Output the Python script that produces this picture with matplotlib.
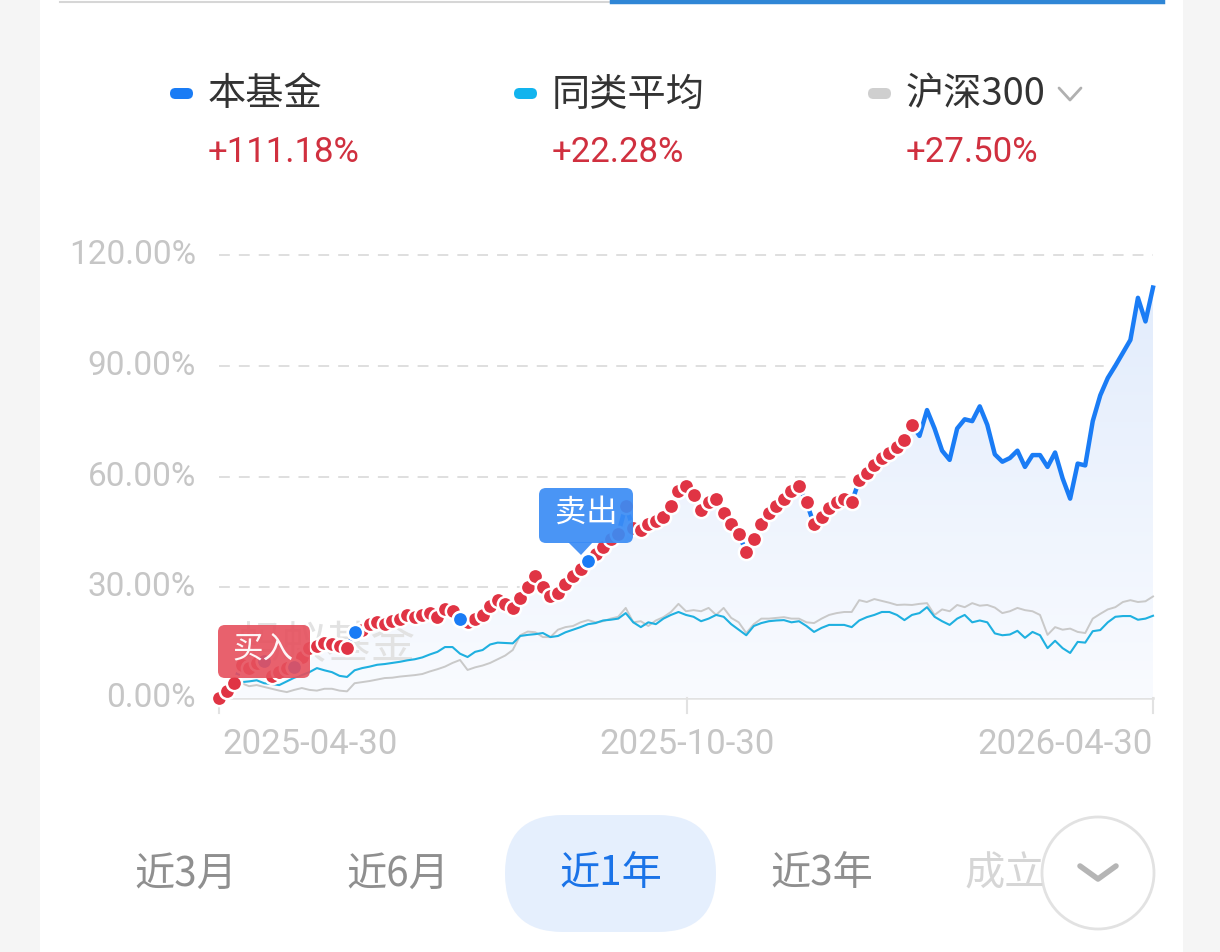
import matplotlib
matplotlib.use("Agg")
import matplotlib.pyplot as plt
from matplotlib.patches import FancyBboxPatch, Rectangle, Circle, Polygon
from matplotlib.colors import LinearSegmentedColormap
import numpy as np
import pandas as pd

plt.rcParams['font.family'] = ['Noto Sans CJK SC', 'DejaVu Sans']

# ---- data (% return since 2025-04-30) ----
start_date = '2025-04-30'
end_date = '2026-04-30'
tick_dates = ['2025-04-30', '2025-10-30', '2026-04-30']
y_ticks = [0, 30, 60, 90, 120]

fund = [0, 2, 4, 9, 8, 9.5, 10, 6, 7, 8,
        8.5, 11, 13.5, 14, 15, 14.5, 14, 13.5, 18, 18.5,
        20, 20.6, 20, 20.8, 21.5, 22.5, 22, 22.5, 23, 22,
        24, 23.5, 21.5, 20.6, 21.5, 22.5, 25, 26.5, 25.5, 24.4,
        27, 30, 33, 30, 27.5, 28.5, 31, 33, 35, 37,
        39, 41, 43, 44.5, 52, 46, 45.5, 47, 48, 49,
        52, 56, 57.5, 55, 51, 53, 54, 50, 47, 44.5,
        39.5, 43, 47, 50, 52, 54, 56, 57.5, 53, 47,
        49, 51.5, 53, 54, 53, 59, 61, 63, 65, 66.5,
        68, 70, 74, 71, 78, 73, 67, 64.5, 73, 75.5,
        75, 79, 74, 66, 64, 65, 67, 62.6, 65.8, 65.8,
        62.6, 66.5, 59.5, 54, 63.5, 63, 75, 82, 86.7, 90,
        93.5, 97, 108.4, 102, 111.18]

peer_avg = [0, 2.5, 4, 4.3, 4.5, 4.8, 4, 3.8, 3.5, 4.5,
            5.5, 6.2, 7, 8.1, 7.5, 7, 6, 5.7, 7.5, 8.1,
            8.5, 9, 9.2, 9.5, 9.8, 10.2, 10.5, 11, 11.8, 12.5,
            13.8, 13.8, 12, 11.1, 12.5, 13, 14.5, 15, 14.9, 14.8,
            16.8, 17.1, 17.3, 17.6, 16.5, 16.8, 17.8, 18.5, 19.2, 20,
            20.3, 21, 21.2, 21.5, 23, 20.5, 19.2, 20.5, 20, 21.5,
            22.5, 23.3, 22.5, 22, 20.8, 21.5, 22.5, 22, 20, 18.5,
            17, 19.5, 20.3, 20.8, 21, 21.1, 20.5, 20.8, 19.5, 17.9,
            19, 19.8, 19.8, 19.8, 19.2, 21, 21.9, 22.5, 23.3, 23.3,
            22.5, 21.1, 22.5, 23, 24.6, 22, 20.8, 19.8, 21.5, 22.5,
            20.5, 21, 20.5, 17.5, 17, 17.2, 18.2, 16.3, 17.9, 17,
            13.5, 15.5, 13.5, 12.2, 15.2, 15, 18.1, 18.4, 20.5, 22,
            22.2, 22.2, 21.2, 21.5, 22.28]

hs300 = [0, 2, 3.5, 4, 3.2, 3.5, 3, 2.5, 2, 1.6,
         2.2, 2.7, 2.2, 2, 2.5, 2.5, 2, 1.8, 4, 4.3,
         4.6, 5, 5.4, 5.5, 5.8, 6, 6.2, 6.5, 7.2, 7.8,
         8.5, 9.5, 10.3, 7.6, 8.3, 8.8, 9.5, 10.5, 11.5, 13,
         17, 18, 17.8, 16.5, 16.5, 18.5, 19.2, 19.5, 20.5, 21.1,
         20.5, 20.8, 21.5, 22, 24.4, 20.5, 20.8, 19.5, 21, 21.9,
         23.3, 25.5, 23.5, 23.8, 23.5, 24.4, 22.5, 24.4, 21.7, 20.5,
         17.6, 20, 21.5, 21.5, 21.7, 21.9, 21.5, 21.5, 20.5, 20.3,
         21.5, 22.5, 23, 23.3, 23.3, 26.5, 26, 26.8, 26.3, 25.8,
         25.2, 25.3, 25.2, 25.5, 25.7, 22.5, 24, 23.5, 25.2, 24.6,
         25.7, 25, 25.2, 24.5, 23, 23.5, 24.4, 23.8, 23.5, 22.5,
         17.1, 19.2, 18.5, 18.8, 17.9, 17.6, 21.5, 22.8, 24, 24.6,
         26, 26.5, 26, 26.2, 27.5]

# trade markers along the fund line
n_marked = 93              # red dots drawn on the first part of the line
blue_idx = [6, 10, 18, 32, 49]

series_names = ['本基金', '同类平均', '沪深300']
series_returns = ['+111.18%', '+22.28%', '+27.50%']
periods = ['近3月', '近6月', '近1年', '近3年', '成立']
active_period = '近1年'

# ---- colours ----
BLUE = '#1a7cf5'
CYAN = '#1fb0e0'
GREY = '#c9c9c9'
RED = '#e03444'
RED_TXT = '#d0303f'

W, H = 1220, 952
fig = plt.figure(figsize=(W / 100, H / 100), dpi=100)
fig.patch.set_facecolor('white')

# full-figure pixel axes for the page furniture
bg = fig.add_axes([0, 0, 1, 1], zorder=0)
bg.set_xlim(0, W); bg.set_ylim(H, 0); bg.axis('off')
fg = fig.add_axes([0, 0, 1, 1], zorder=5)
fg.set_xlim(0, W); fg.set_ylim(H, 0); fg.axis('off')
fg.patch.set_alpha(0)

bg.add_patch(Rectangle((0, 0), 40, H, color='#f5f5f5', lw=0))
bg.add_patch(Rectangle((1183, 0), W - 1183, H, color='#f5f5f5', lw=0))
bg.plot([60, 610], [1.5, 1.5], color='#d6d6d6', lw=1.5)
bg.plot([612, 1163], [1.5, 1.5], color='#2f86d6', lw=3.2)

# legend row
leg_x = [170, 514, 868]
leg_col = [BLUE, '#12b4ee', '#cfcfcf']
for lx, name, ret, c in zip(leg_x, series_names, series_returns, leg_col):
    bg.add_patch(FancyBboxPatch((lx, 88), 23, 11, boxstyle='round,pad=0,rounding_size=5.5',
                                fc=c, ec='none'))
    bg.text(lx + 38, 95, name, fontsize=27.5, color='#333333', va='center', ha='left')
    bg.text(lx + 38, 152, ret, fontsize=25, color=RED_TXT, va='center', ha='left',
            family=['Roboto', 'DejaVu Sans'])
bg.plot([1059, 1070, 1081], [88, 100, 88], color='#b0b0b0', lw=2, solid_capstyle='round')

# ---- main chart ----
dates = pd.date_range(start_date, end_date, periods=len(fund))
x = ((dates - dates[0]) / pd.Timedelta(days=1)).to_numpy()
tick_x = [(pd.Timestamp(d) - dates[0]) / pd.Timedelta(days=1) for d in tick_dates]
x_end = x[-1]

px_left, px_right, px_top, px_zero = 219, 1153, 230, 698
ymax = (px_zero - px_top) / (px_zero - 255) * 120
ax = fig.add_axes([px_left / W, 1 - px_zero / H, (px_right - px_left) / W, (px_zero - px_top) / H],
                  zorder=2)
ax.set_xlim(0, x_end)
ax.set_ylim(0, ymax)
ax.patch.set_alpha(0)
for s in ax.spines.values():
    s.set_visible(False)
ax.set_xticks([]); ax.set_yticks([])

fund = np.array(fund)
# gradient fill below the fund line
poly = ax.fill_between(x, 0, fund, color='none', lw=0)
grad = np.linspace(0, 1, 256).reshape(-1, 1)
cmap = LinearSegmentedColormap.from_list('g', ['#f9fbff', '#e2ecfc'])
im = ax.imshow(grad, extent=[0, x_end, 0, 112], origin='lower', aspect='auto', cmap=cmap, zorder=1)
im.set_clip_path(poly.get_paths()[0], transform=ax.transData)

for yv in y_ticks[1:]:
    ax.axhline(yv, color='#dcdcdc', lw=1.3, ls=(0, (6, 5)), zorder=0.5)
ax.axhline(0, color='#e2e2e2', lw=1.8, zorder=0.6, clip_on=False)
for tx in tick_x:
    ax.plot([tx, tx], [0, -15 * ymax / (px_zero - px_top)], color='#e2e2e2', lw=1.5, clip_on=False)

# watermark sits above the fill, under the lines
ax.text(326, 645, '蚂蚁基金', transform=bg.transData, fontsize=32, color='#e2e2e2',
        ha='center', va='center', zorder=2, clip_on=False)

ax.plot(x, hs300, color=GREY, lw=1.4, zorder=3, clip_on=False)
ax.plot(x, peer_avg, color=CYAN, lw=1.5, zorder=4, clip_on=False)
ax.plot(x, fund, color=BLUE, lw=3.2, zorder=5, clip_on=False, solid_joinstyle='round')
ax.plot(x[:n_marked], fund[:n_marked], 'o', ms=11, mfc=RED, mec='white', mew=1.8,
        zorder=6, clip_on=False)
ax.plot(x[blue_idx], fund[blue_idx], 'o', ms=11, mfc=BLUE, mec='white', mew=1.8,
        zorder=7, clip_on=False)

# y tick labels and x tick labels
for yv in y_ticks:
    py = px_zero - yv / 120 * (px_zero - 255)
    bg.text(196, py, f'{yv:.2f}%', fontsize=24, color='#c6c6c6', ha='right', va='center',
            family=['Roboto', 'DejaVu Sans'])
aligns = ['left', 'center', 'right']
for tx, lab, al in zip(tick_x, tick_dates, aligns):
    px = px_left + tx / x_end * (px_right - px_left)
    offs = {'left': 3, 'center': 0, 'right': 0}[al]
    bg.text(px + offs, 744, lab, fontsize=25, color='#c6c6c6', ha=al, va='center',
            family=['Roboto', 'DejaVu Sans'])

# buy / sell labels
fg.add_patch(FancyBboxPatch((218, 625), 92, 53, boxstyle='round,pad=0,rounding_size=7',
                            fc='#e6505d', ec='none', alpha=0.9))
fg.text(263, 649, '买入', fontsize=22, color='white', ha='center', va='center', alpha=0.95)
fg.add_patch(FancyBboxPatch((539, 488), 94, 55, boxstyle='round,pad=0,rounding_size=7',
                            fc='#3a8cf5', ec='none', alpha=0.92))
fg.add_patch(Polygon([[568, 542], [593, 542], [581, 555]], closed=True, fc='#3a8cf5',
                     ec='none', alpha=0.92))
fg.text(586, 513, '卖出', fontsize=22.5, color='white', ha='center', va='center')

# ---- period selector ----
fg.add_patch(FancyBboxPatch((505, 815), 211, 117, boxstyle='round,pad=0,rounding_size=58',
                            fc='#e5effd', ec='none'))
btn_x = [186, 398, 611, 822, 1005]
for bx, p in zip(btn_x, periods):
    col = '#1a73e8' if p == active_period else ('#d6d6d6' if p == '成立' else '#8f8f8f')
    fg.text(bx, 874, p, fontsize=29, color=col, ha='center', va='center')
fg.add_patch(Circle((1098, 873), 56, fc='white', ec='#e2e2e2', lw=2))
fg.plot([1080, 1098, 1116], [866, 879, 866], color='#b5b5b5', lw=4, solid_capstyle='round',
        solid_joinstyle='round')

fig.savefig('out.png', dpi=100)
